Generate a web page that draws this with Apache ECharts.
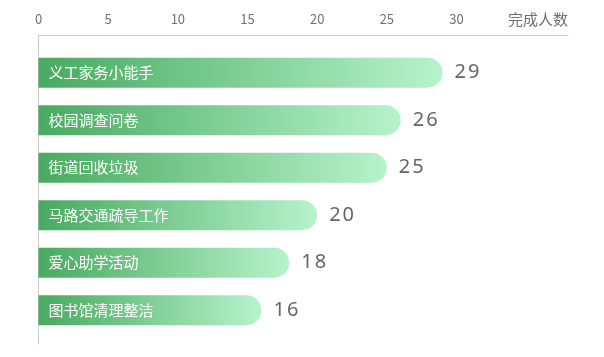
<!DOCTYPE html>
<html>
<head>
<meta charset="utf-8">
<script src="https://cdn.jsdelivr.net/npm/echarts@6/dist/echarts.min.js"></script>
<style>
  html, body { margin: 0; padding: 0; background: #fff; }
  #chart { width: 604px; height: 357px; }
</style>
</head>
<body>
<div id="chart"></div>
<script>
// Volunteer activities and how many people completed each
const categories = ['义工家务小能手', '校园调查问卷', '街道回收垃圾', '马路交通疏导工作', '爱心助学活动', '图书馆清理整洁'];
const counts = [29, 26, 25, 20, 18, 16];
const axisName = '完成人数';
const tickMax = 30;

const FONT = '"Noto Sans CJK SC", "Noto Sans", sans-serif';

const chart = echarts.init(document.getElementById('chart'), null, { renderer: 'canvas' });

const barFill = new echarts.graphic.LinearGradient(0, 0, 1, 0, [
  { offset: 0, color: '#48aa60' },
  { offset: 1, color: '#b7f3cb' }
]);

chart.setOption({
  animation: false,
  textStyle: { fontFamily: FONT },
  grid: [
    { left: 38.5, right: 36, top: 49, bottom: 23 },
    { left: 38.5, right: 36, top: 35, bottom: 13 }
  ],
  xAxis: [
    {
      gridIndex: 0,
      type: 'value',
      position: 'top',
      offset: 14,
      min: 0,
      max: 38,
      interval: 5,
      name: axisName,
      nameLocation: 'end',
      nameGap: 0,
      nameTextStyle: {
        color: '#707070', fontSize: 15, align: 'right', verticalAlign: 'bottom',
        padding: [0, 0, 8, 0], fontFamily: FONT
      },
      axisLine: { show: true, lineStyle: { color: '#cccccc', width: 1 } },
      axisTick: { show: false },
      splitLine: { show: false },
      axisLabel: {
        color: '#707070', fontSize: 13, margin: 9, fontFamily: FONT,
        formatter: v => (v <= tickMax ? String(v) : '')
      }
    },
    { gridIndex: 1, type: 'value', show: false }
  ],
  yAxis: [
    {
      gridIndex: 0,
      type: 'category',
      inverse: true,
      data: categories,
      axisLine: { show: false },
      axisTick: { show: false },
      axisLabel: { show: false }
    },
    {
      gridIndex: 1,
      type: 'value',
      axisLine: { show: true, lineStyle: { color: '#cccccc', width: 1 } },
      axisTick: { show: false },
      axisLabel: { show: false },
      splitLine: { show: false }
    }
  ],
  series: [
    {
      type: 'bar',
      xAxisIndex: 0,
      yAxisIndex: 0,
      data: counts,
      barWidth: 30,
      itemStyle: { color: barFill, borderRadius: [0, 15, 15, 0] },
      label: {
        show: true,
        position: 'insideLeft',
        offset: [5, 0],
        formatter: p => categories[p.dataIndex],
        color: '#ffffff',
        fontSize: 15,
        fontFamily: FONT
      },
      z: 2
    },
    {
      type: 'bar',
      xAxisIndex: 0,
      yAxisIndex: 0,
      data: counts,
      barWidth: 30,
      barGap: '-100%',
      itemStyle: { color: 'transparent' },
      label: {
        show: true,
        position: 'right',
        distance: 12,
        formatter: p => String(p.value).split('').join('\u200A'),
        color: '#666666',
        fontSize: 20,
        fontFamily: '"Noto Sans", sans-serif'
      },
      silent: true,
      z: 3
    }
  ]
});
</script>
</body>
</html>
